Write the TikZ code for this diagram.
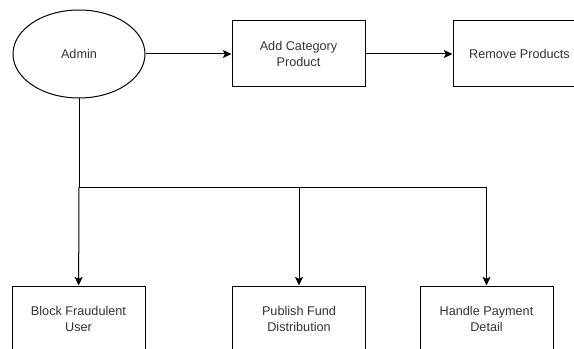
\documentclass[tikz,border=0pt]{standalone}
\usepackage{fontspec}
\setmainfont{Liberation Sans}
\usepackage{tikz}
\usetikzlibrary{arrows.meta,shapes.geometric}

\begin{document}
\begin{tikzpicture}[x=0.75pt,y=-0.75pt,
  task/.style={draw,line width=0.75pt,minimum width=99.75pt,minimum height=49.5pt,align=center,text=black!80,font=\fontsize{9.5}{11.5}\selectfont},
  actor/.style={draw,ellipse,line width=0.75pt,minimum width=99pt,minimum height=66pt,text=black!80,font=\fontsize{9.5}{11.5}\selectfont},
  flow/.style={line width=0.75pt,-{Stealth[length=6.5pt,width=6pt,inset=1.5pt]}}]
\useasboundingbox (0,0) rectangle (574,349);
\clip (0,0) rectangle (574,349);
\node[actor] (admin) at (79,54) {Admin};
\node[task] (addcat) at (298.5,54) {Add Category\\Product};
\node[task] (remove) at (519.5,54) {Remove Products};
\node[task] (block) at (78.5,319) {Block Fraudulent\\User};
\node[task] (publish) at (299,319) {Publish Fund\\Distribution};
\node[task] (handle) at (486.5,319) {Handle Payment\\Detail};
\coordinate (split) at (79,187);

\draw[flow] (admin) -- (addcat);
\draw[flow] (addcat) -- (remove);
\draw[line width=0.75pt] (admin) -- (split);
\draw[flow] (split) -- (block);
\draw[flow] (split) -| (publish);
\draw[flow] (split) -| (handle);
\end{tikzpicture}
\end{document}
